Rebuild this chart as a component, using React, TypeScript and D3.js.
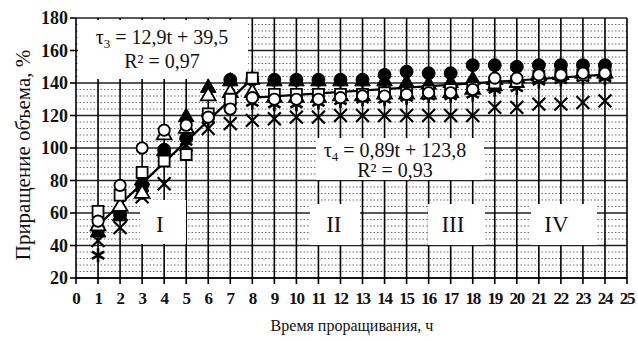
import React from "react";
import * as d3 from "d3";

const hours = [1, 2, 3, 4, 5, 6, 7, 8, 9, 10, 11, 12, 13, 14, 15, 16, 17, 18, 19, 20, 21, 22, 23, 24];
const circleOpen = [55, 77, 100, 111, 114, 119, 124, 131, 130, 130, 130, 131, 132, 132, 133, 134, 134, 136, 143, 143, 145, 145, 146, 146];
const squareOpen = [61, 71, 85, 92, 96, 121, 130, 143, 133, 133, 133, 133, 133, 134, 134, 135, 136, 137, 140, 141, 144, 145, 145, 146];
const circleFilled = [50, 59, 77, 99, 106, 120, 142, 142, 142, 142, 142, 142, 142, 145, 147, 146, 146, 151, 151, 150, 151, 151, 151, 151];
const triangleFilled = [48, 58, 80, 98, 119, 137, 141, 142, 141, 141, 141, 141, 141, 141, 140, 139, 140, 142, 138, 140, 144, 145, 146, 146];
const crossSeries = [43, 51, 70, 78, 102, 112, 115, 117, 118, 119, 119, 120, 120, 120, 120, 120, 120, 120, 125, 125, 127, 127, 128, 129];
const asteriskSeries = [34, 60, 76, 96, 104, 118, 126, 128, 127, 127, 128, 129, 130, 130, 131, 132, 132, 133, 136, 137, 141, 142, 143, 143];
const triangleOpen = [52, 64, 72, 108, 112, 132, 134, 134, 131, 131, 131, 132, 132, 133, 133, 133, 134, 136, 142, 143, 145, 145, 146, 146];

const xTicks = d3.range(0, 26);
const yTicks = [20, 40, 60, 80, 100, 120, 140, 160, 180];
const trend3 = { a: 12.9, b: 39.5, from: 1, to: 8 };
const trend4 = { a: 0.89, b: 123.8, from: 8, to: 24 };
const stageLabels = [
  { text: "I", t: 3.8 },
  { text: "II", t: 11.7 },
  { text: "III", t: 17.1 },
  { text: "IV", t: 21.8 },
];

const FONT = "'Liberation Serif', 'Times New Roman', serif";

export default function App() {
  const W = 638, H = 341;
  const x = d3.scaleLinear().domain([0, 25]).range([76, 627]);
  const y = d3.scaleLinear().domain([20, 180]).range([278, 18]);

  const minorY = d3.range(20, 181, 4).filter((v) => v % 20 !== 0);

  const series = [
    { data: asteriskSeries, type: d3.symbolAsterisk, size: 140, fill: "none", stroke: "#000", sw: 2.6 },
    { data: crossSeries, type: d3.symbolTimes, size: 110, fill: "none", stroke: "#000", sw: 2.2 },
    { data: triangleFilled, type: d3.symbolTriangle, size: 105, fill: "#000", stroke: "#000", sw: 1 },
    { data: circleFilled, type: d3.symbolCircle, size: 130, fill: "#000", stroke: "#000", sw: 1 },
    { data: triangleOpen, type: d3.symbolTriangle, size: 95, fill: "#fff", stroke: "#000", sw: 1.8 },
    { data: squareOpen, type: d3.symbolSquare, size: 120, fill: "#fff", stroke: "#000", sw: 1.8 },
    { data: circleOpen, type: d3.symbolCircle, size: 100, fill: "#fff", stroke: "#000", sw: 1.8 },
  ];

  const tl3 = [trend3.from, trend3.to].map((t) => [x(t), y(trend3.a * t + trend3.b)] as [number, number]);
  const tl4 = [trend4.from, trend4.to].map((t) => [x(t), y(trend4.a * t + trend4.b)] as [number, number]);
  const lineGen = d3.line();

  return (
    <svg width={W} height={H} style={{ position: "absolute", left: 0, top: 0, background: "#fff" }} fontFamily={FONT}>
      <rect x={0} y={0} width={W} height={H} fill="#fff" />
      {minorY.map((v) => (
        <line key={"m" + v} x1={x(0)} x2={x(25)} y1={y(v)} y2={y(v)} stroke="#444" strokeWidth={0.8} strokeDasharray="1.5,2" />
      ))}
      {yTicks.map((v) => (
        <line key={"h" + v} x1={x(0)} x2={x(25)} y1={y(v)} y2={y(v)} stroke="#222" strokeWidth={1.4} />
      ))}
      {xTicks.filter((t) => t > 0).map((t) => (
        <line key={"v" + t} x1={x(t)} x2={x(t)} y1={y(20)} y2={y(180)} stroke="#000" strokeWidth={1.6} />
      ))}

      <rect x={78} y={20} width={170} height={59} fill="#fff" />
      <rect x={316} y={138} width={168} height={42} fill="#fff" />
      <rect x={140} y={200} width={46} height={44} fill="#fff" />
      <rect x={310} y={204} width={50} height={41} fill="#fff" />
      <rect x={428} y={204} width={57} height={41} fill="#fff" />
      <rect x={531} y={204} width={66} height={41} fill="#fff" />

      <line x1={x(0)} x2={x(0)} y1={y(20)} y2={y(180)} stroke="#000" strokeWidth={1.6} />
      <line x1={x(0)} x2={x(25)} y1={y(20)} y2={y(20)} stroke="#000" strokeWidth={1.6} />
      {yTicks.map((v) => (
        <g key={"yt" + v}>
          <line x1={x(0) - 6} x2={x(0)} y1={y(v)} y2={y(v)} stroke="#000" strokeWidth={1.6} />
          <text x={x(0) - 8} y={y(v) + 6} textAnchor="end" fontSize={18} fontWeight="bold" fill="#111">{v}</text>
        </g>
      ))}
      {xTicks.map((t) => (
        <g key={"xt" + t}>
          <line x1={x(t)} x2={x(t)} y1={y(20)} y2={y(20) + 6} stroke="#000" strokeWidth={1.6} />
          <text x={x(t)} y={304} textAnchor="middle" fontSize={17} fontWeight="bold" letterSpacing={-1.2} fill="#111">{t}</text>
        </g>
      ))}

      <path d={lineGen(tl3) || ""} stroke="#000" strokeWidth={2.2} fill="none" />
      <path d={lineGen(tl4) || ""} stroke="#000" strokeWidth={2.2} fill="none" />

      {series.map((s, si) =>
        s.data.map((v, i) => (
          <path
            key={si + "-" + i}
            transform={`translate(${x(hours[i])},${y(v)})`}
            d={d3.symbol().type(s.type).size(s.size)() || ""}
            fill={s.fill}
            stroke={s.stroke}
            strokeWidth={s.sw}
          />
        ))
      )}

      <text x={162} y={44} textAnchor="middle" fontSize={20} fill="#111">
        τ<tspan fontSize={13} dy={4}>3</tspan><tspan dy={-4}> = 12,9t + 39,5</tspan>
      </text>
      <text x={162} y={68} textAnchor="middle" fontSize={20} fill="#111">R² = 0,97</text>
      <text x={395} y={157} textAnchor="middle" fontSize={20} fill="#111">
        τ<tspan fontSize={13} dy={4}>4</tspan><tspan dy={-4}> = 0,89t + 123,8</tspan>
      </text>
      <text x={395} y={177} textAnchor="middle" fontSize={20} fill="#111">R² = 0,93</text>

      {stageLabels.map((s) => (
        <text key={s.text} x={x(s.t)} y={232} textAnchor="middle" fontSize={23} fill="#111">{s.text}</text>
      ))}

      <text transform={`translate(30,155) rotate(-90)`} textAnchor="middle" fontSize={21} fill="#111">Приращение объема, %</text>
      <text x={352} y={331} textAnchor="middle" fontSize={16} fill="#111">Время проращивания, ч</text>
    </svg>
  );
}
